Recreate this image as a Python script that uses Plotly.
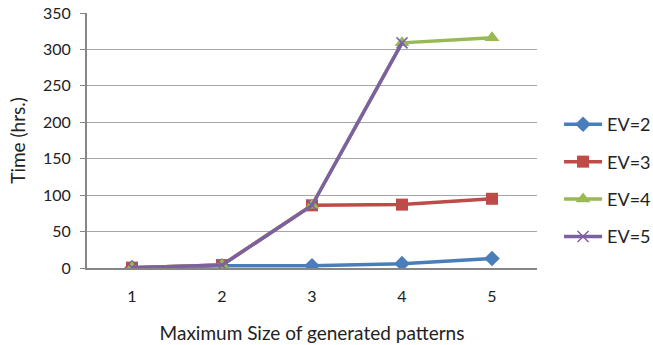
import plotly.graph_objects as go

sizes = [1, 2, 3, 4, 5]
ev2 = [0.5, 3, 3, 6, 13]
ev3 = [0.5, 4, 86, 87, 95]
ev4 = [0.5, 4, 86, 309, 316]
ev5 = [0.5, 4, 86, 309]
names = ["EV=2", "EV=3", "EV=4", "EV=5"]
colors = ["#4a7ebb", "#be4b48", "#98b954", "#7d60a0"]
symbols = ["diamond", "square", "triangle-up", "x-thin"]
series = [ev2, ev3, ev4, ev5]
msize = [12, 12, 13, 11]

fig = go.Figure()
for i, (nm, vals) in enumerate(zip(names, series)):
    mk = dict(symbol=symbols[i], size=msize[i], color=colors[i])
    if symbols[i] == "x-thin":
        mk["line"] = dict(color=colors[i], width=1.5)
    fig.add_trace(go.Scatter(
        x=sizes[:len(vals)], y=vals, name=nm, mode="lines+markers",
        line=dict(color=colors[i], width=3.5), marker=mk,
        legendgroup=nm,
    ))

font = "Lato, 'Open Sans', sans-serif"
fig.update_layout(
    width=653, height=345,
    margin=dict(l=87, r=116, t=13, b=77, autoexpand=False),
    plot_bgcolor="white", paper_bgcolor="white",
    font=dict(family=font, size=16, color="#222"),
    showlegend=True,
    legend=dict(x=1.049, xanchor="left", y=0.343, yanchor="middle",
                font=dict(size=18, color="#222"), tracegroupgap=11,
                itemwidth=38, bgcolor="rgba(0,0,0,0)"),
    xaxis=dict(range=[0.5, 5.5], tickvals=sizes, ticktext=[str(s) for s in sizes],
               showgrid=False, zeroline=False, showline=True, linecolor="#868686",
               linewidth=2, ticks="", ticklen=0, ticklabelstandoff=13,
               title=dict(text="Maximum Size of generated patterns", font=dict(size=19), standoff=22),
               fixedrange=True),
    yaxis=dict(range=[0, 350], dtick=50, showgrid=True, gridcolor="#a6a6a6", gridwidth=1,
               zeroline=False, showline=True, linecolor="#868686", linewidth=2,
               ticks="outside", ticklen=5, tickcolor="#868686", ticklabelstandoff=6,
               title=dict(text="Time (hrs.)", font=dict(size=19), standoff=12),
               fixedrange=True),
)
fig.write_html("out.html", config={"displayModeBar": False, "staticPlot": True},
               post_script="document.body.style.margin='0';document.body.style.padding='0';document.body.style.overflow='hidden';")
